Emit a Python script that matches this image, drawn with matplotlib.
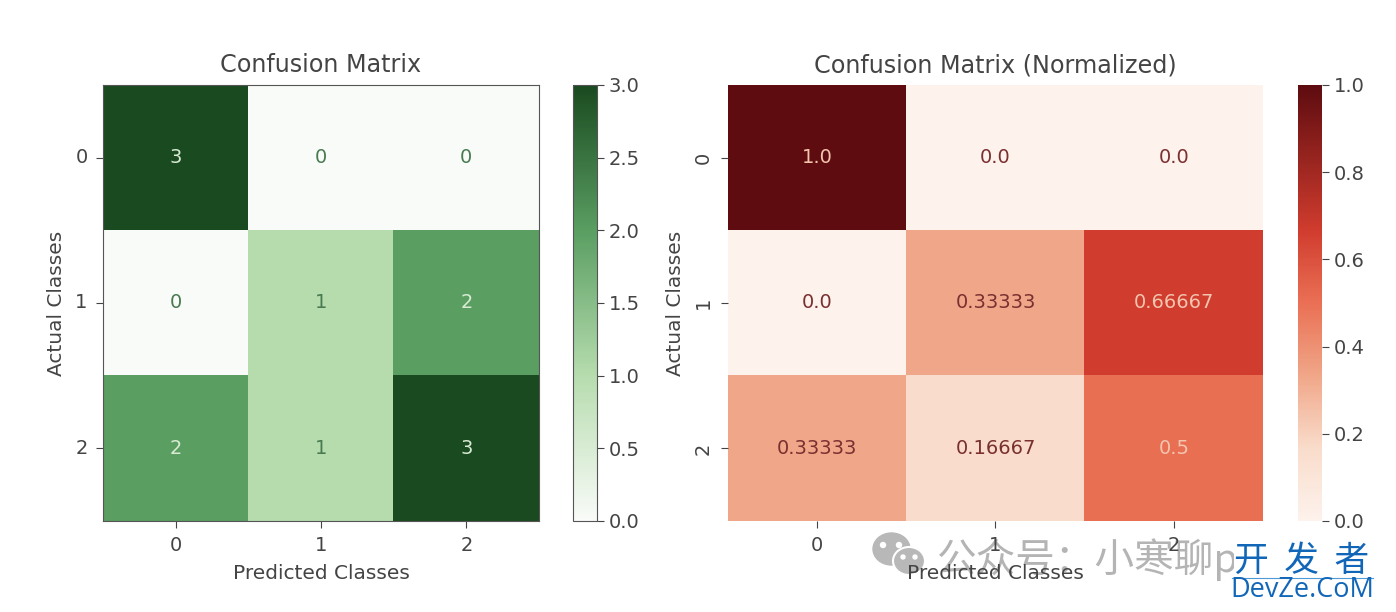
import matplotlib
matplotlib.use("Agg")
import matplotlib.pyplot as plt
from matplotlib.colors import LinearSegmentedColormap
from matplotlib.patches import Ellipse
import numpy as np

classes = [0, 1, 2]
counts = [[3, 0, 0], [0, 1, 2], [2, 1, 3]]
normalized = [[1.0, 0.0, 0.0], [0.0, 0.33333, 0.66667], [0.33333, 0.16667, 0.5]]
normalized_labels = [["1.0", "0.0", "0.0"], ["0.0", "0.33333", "0.66667"], ["0.33333", "0.16667", "0.5"]]
title_left = "Confusion Matrix"
title_right = "Confusion Matrix (Normalized)"
xlabel = "Predicted Classes"
ylabel = "Actual Classes"
cbar_ticks_left = [0.0, 0.5, 1.0, 1.5, 2.0, 2.5, 3.0]
cbar_ticks_right = [0.0, 0.2, 0.4, 0.6, 0.8, 1.0]

W, H = 1396, 612
plt.rcParams['font.family'] = ['DejaVu Sans']
fig = plt.figure(figsize=(W / 100, H / 100), dpi=100)

greens = LinearSegmentedColormap.from_list(
    'muted_greens', [(0, '#f9fbf8'), (1 / 3, '#b6dcae'), (2 / 3, '#5a9e62'), (1, '#1a4a20')])
reds = LinearSegmentedColormap.from_list(
    'muted_reds', [(0, '#fdf2ec'), (1 / 6, '#f9dccb'), (1 / 3, '#f0a688'), (0.5, '#ea7054'),
                   (2 / 3, '#d03c2e'), (1, '#5e0c10')])


def box(x0, y0, x1, y1):
    return [x0 / W, 1 - y1 / H, (x1 - x0) / W, (y1 - y0) / H]


GRAY = '#444444'


def style(ax, rot, ylab_pad):
    ax.set_xticks(classes)
    ax.set_yticks(classes)
    ax.set_xticklabels(classes)
    ax.set_yticklabels(classes, rotation=rot, va='center')
    ax.tick_params(labelsize=14, length=5, color=GRAY, labelcolor=GRAY, pad=6)
    ax.set_xlabel(xlabel, fontsize=14.5, color=GRAY, labelpad=6)
    ax.set_ylabel(ylabel, fontsize=14.5, color=GRAY, labelpad=ylab_pad)


# left matrix
ax1 = fig.add_axes(box(103, 85, 539, 521))
im1 = ax1.imshow(counts, cmap=greens, vmin=0, vmax=3, aspect='auto', interpolation='nearest')
style(ax1, 0, 7)
ax1.set_title(title_left, fontsize=17.2, color=GRAY, pad=9)
for s in ax1.spines.values():
    s.set_linewidth(0.8)
    s.set_color('#555555')
for i, row in enumerate(counts):
    for j, v in enumerate(row):
        c = '#d8ead4' if v >= 2 else '#4a7a52'
        ax1.text(j, i, str(v), ha='center', va='center', fontsize=14, color=c)
cax1 = fig.add_axes(box(573, 85, 597, 521))
cb1 = fig.colorbar(im1, cax=cax1, ticks=cbar_ticks_left)
cb1.ax.tick_params(labelsize=14, length=5, color=GRAY, labelcolor=GRAY)
cb1.outline.set_linewidth(0.8)
cb1.outline.set_edgecolor('#555555')

# right matrix
ax2 = fig.add_axes(box(728, 85, 1263, 521))
im2 = ax2.imshow(normalized, cmap=reds, vmin=0, vmax=1, aspect='auto', interpolation='nearest')
style(ax2, 90, 6)
ax2.set_title(title_right, fontsize=17.2, color=GRAY, pad=9)
for s in ax2.spines.values():
    s.set_visible(False)
for i, row in enumerate(normalized):
    for j, v in enumerate(row):
        c = '#f3c4ae' if v >= 0.5 else '#7a3030'
        ax2.text(j, i, normalized_labels[i][j], ha='center', va='center', fontsize=14, color=c)
cax2 = fig.add_axes(box(1298, 85, 1322, 521))
cb2 = fig.colorbar(im2, cax=cax2, ticks=cbar_ticks_right)
cb2.ax.tick_params(labelsize=14, length=5, color=GRAY, labelcolor=GRAY)
cb2.outline.set_visible(False)

# overlay watermarks, kept beneath the axis labels as in the reference
bg = fig.add_axes([0, 0, 1, 1], facecolor='none')
bg.set_zorder(-1)
bg.set_xlim(0, W)
bg.set_ylim(H, 0)
bg.axis('off')
bg.add_patch(Ellipse((891.5, 549), 37, 32, color='#b8b8b8', zorder=3))
for ex in (883, 899):
    bg.add_patch(Ellipse((ex, 545), 5, 5, color='white', zorder=3))
bg.add_patch(Ellipse((909, 561), 32, 28, fc='#b8b8b8', ec='white', lw=1.5, zorder=4))
for ex in (903, 915):
    bg.add_patch(Ellipse((ex, 557), 4, 4, color='white', zorder=4))
cjk = ['Noto Sans CJK SC', 'DejaVu Sans']
bg.text(937, 560, "公众号：小寒聊p", fontsize=28.5, color='#b4b4b4', family=cjk, va='center', ha='left', zorder=2)
bg.text(1302, 561, "开  发  者", fontsize=25, color='#1166b8', family=cjk, va='center', ha='center', zorder=6,
        bbox=dict(fc='white', ec='none', pad=0))
bg.plot([1232, 1373], [577.5, 577.5], color='#4d9ad6', lw=0.8, zorder=6)
bg.text(1302, 590, "DevZe.CoM", fontsize=19.5, color='#1166b8', family=['Open Sans', 'DejaVu Sans'], va='center', ha='center', zorder=6)

fig.savefig("out.png", dpi=100)
